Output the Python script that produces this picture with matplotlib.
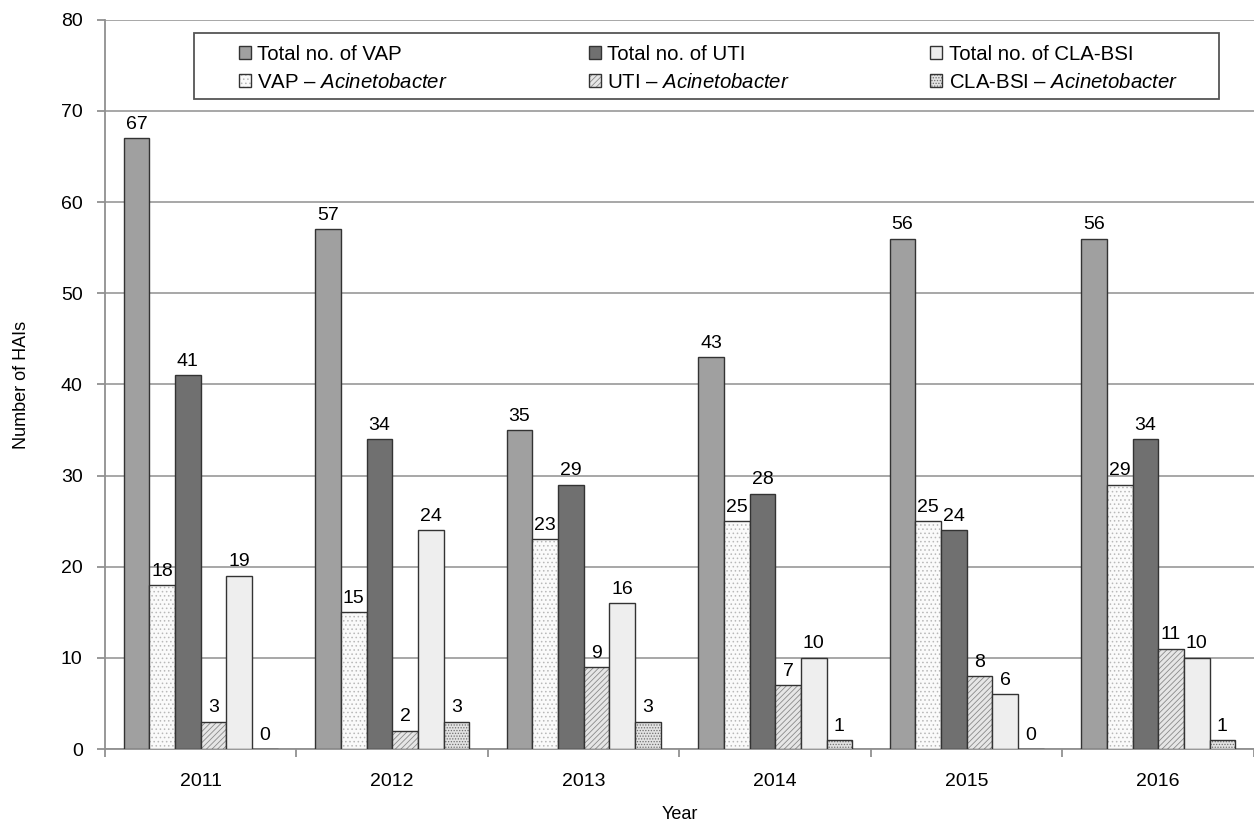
import numpy as np
import matplotlib.pyplot as plt
from matplotlib.colors import to_rgba
from matplotlib.patches import Rectangle

plt.rcParams['font.family'] = ['Liberation Sans', 'DejaVu Sans']
plt.rcParams['mathtext.fontset'] = 'custom'
plt.rcParams['mathtext.rm'] = 'Liberation Sans'
plt.rcParams['mathtext.it'] = 'Liberation Sans:italic'
plt.rcParams['hatch.linewidth'] = 0.6

years = ['2011', '2012', '2013', '2014', '2015', '2016']
vap_total = [67, 57, 35, 43, 56, 56]
vap_acin = [18, 15, 23, 25, 25, 29]
uti_total = [41, 34, 29, 28, 24, 34]
uti_acin = [3, 2, 9, 7, 8, 11]
cla_total = [19, 24, 16, 10, 6, 10]
cla_acin = [0, 3, 3, 1, 0, 1]

# values, label, face colour, hatch, hatch colour
series = [
    (vap_total, 'Total no. of VAP', '#a0a0a0', None, '#a0a0a0'),
    (vap_acin, 'VAP – $\\it{Acinetobacter}$', '#fafafa', '....', '#b8b8b8'),
    (uti_total, 'Total no. of UTI', '#707070', None, '#707070'),
    (uti_acin, 'UTI – $\\it{Acinetobacter}$', '#e6e6e6', '//////', '#8a8a8a'),
    (cla_total, 'Total no. of CLA-BSI', '#eeeeee', None, '#eeeeee'),
    (cla_acin, 'CLA-BSI – $\\it{Acinetobacter}$', '#e2e2e2', '......', '#707070'),
]

fig, ax = plt.subplots(figsize=(12.54, 8.25), dpi=100)
fig.subplots_adjust(left=0.0837, right=1.0, top=0.976, bottom=0.092)

x = np.arange(len(years))
w = 0.134
for i, (vals, lab, fc, hatch, hc) in enumerate(series):
    pos = x + (i - 2.5) * w
    bars = ax.bar(pos, vals, w, color=fc, edgecolor='#333333', linewidth=1.0,
                  hatch=hatch, label=lab, zorder=3)
    if hatch:
        for b in bars:
            b._hatch_color = to_rgba(hc)
    for p, v in zip(pos, vals):
        ax.text(p, v + 0.6, str(v), ha='center', va='bottom', fontsize=14, zorder=4)

ax.set_ylim(0, 80)
ax.set_yticks(range(0, 81, 10))
ax.set_xlim(-0.5, 5.423)
ax.set_xticks(x)
ax.set_xticklabels(years)
ax.set_xticks(np.arange(-0.5, len(years), 1), minor=True)
ax.tick_params(axis='x', which='major', length=0, pad=17)
ax.tick_params(axis='x', which='minor', length=6, color='#888888', width=1.2)
ax.tick_params(axis='y', length=6, color='#888888', width=1.2, pad=10)
ax.tick_params(labelsize=14)
ax.yaxis.grid(True, color='#a0a0a0', linewidth=1.3, zorder=0)
for s in ['top', 'right']:
    ax.spines[s].set_visible(False)
for s in ['left', 'bottom']:
    ax.spines[s].set_color('#909090')
    ax.spines[s].set_linewidth(1.3)

ax.set_ylabel('Number of HAIs', fontsize=13, labelpad=22)
ax.set_xlabel('Year', fontsize=13, labelpad=12)

# legend box frame
ax.add_patch(Rectangle((0.0775, 0.8916), 0.892, 0.0904, transform=ax.transAxes,
                       fill=True, facecolor='white', edgecolor='#555555',
                       linewidth=1.3, zorder=5))
leg = ax.legend(ncol=3, loc='upper left', bbox_to_anchor=(0.1166, 0.966, 0.817, 0.0),
                mode='expand', fontsize=14.7, frameon=False,
                handlelength=0.6, handleheight=0.6, handletextpad=0.3,
                borderpad=0.0, borderaxespad=0.0, labelspacing=0.45, columnspacing=1.0)
leg.set_zorder(6)

plt.savefig('out.png')
